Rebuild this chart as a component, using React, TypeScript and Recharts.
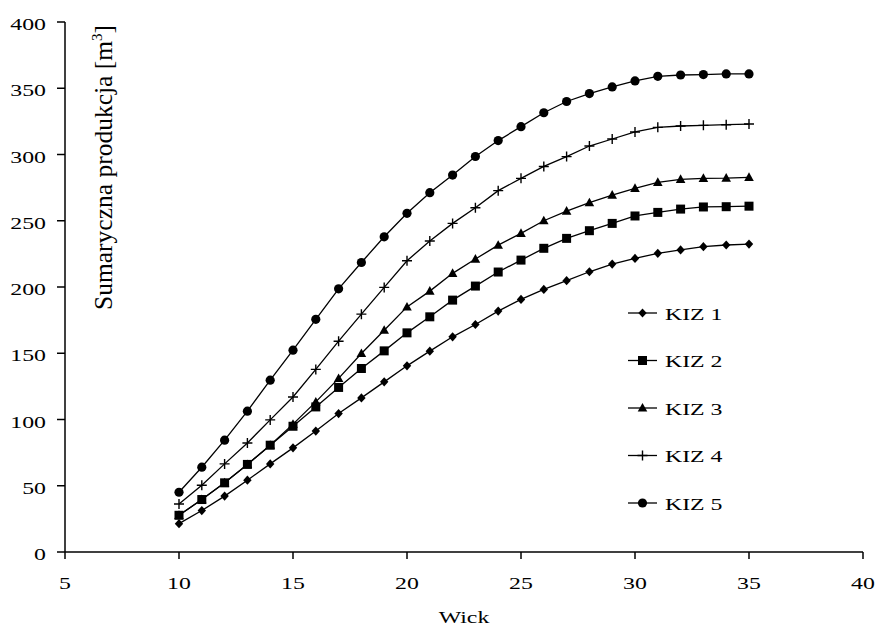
import React from 'react';
import { LineChart, Line, XAxis, YAxis, Label } from 'recharts';

const weeks = [10, 11, 12, 13, 14, 15, 16, 17, 18, 19, 20, 21, 22, 23, 24, 25, 26, 27, 28, 29, 30, 31, 32, 33, 34, 35];
const kiz1 = [21.4, 31.3, 42.2, 54.2, 66.5, 78.6, 91.3, 104.5, 116.3, 128.4, 140.5, 151.6, 162.4, 171.7, 181.8, 190.6, 198.2, 204.8, 211.5, 217.3, 221.6, 225.4, 228, 230.4, 231.7, 232.4];
const kiz2 = [27.7, 39.6, 52.2, 66.1, 80.6, 94.9, 109.5, 124.2, 138.5, 151.8, 165.4, 177.5, 190.1, 200.7, 211.3, 220.3, 229.2, 236.7, 242.5, 248, 253.6, 256.3, 258.8, 260.4, 260.6, 261];
const kiz3 = [27.7, 39.6, 52.2, 66.1, 80.6, 96.5, 113.3, 131, 149.8, 167.4, 185, 196.9, 210.3, 221.1, 231.6, 240.5, 250, 257.3, 263.6, 269.4, 274.5, 279, 281.3, 282, 282.2, 282.8];
const kiz4 = [36.2, 50.4, 66.5, 82.3, 99.7, 117, 137.8, 159.1, 179.5, 199.7, 219.8, 234.7, 248, 259.8, 272.7, 282, 291, 298.4, 306.4, 311.7, 317, 320.5, 321.5, 322, 322.5, 323];
const kiz5 = [45.1, 64, 84.4, 106.3, 129.7, 152.3, 175.6, 198.6, 218.5, 237.9, 255.6, 271.2, 284.5, 298.5, 310.5, 321, 331.5, 340, 346, 351, 355.5, 359, 360, 360.3, 360.8, 360.8];
const seriesNames = ['KIZ 1', 'KIZ 2', 'KIZ 3', 'KIZ 4', 'KIZ 5'];
const xTicks = [5, 10, 15, 20, 25, 30, 35, 40];
const yTicks = [0, 50, 100, 150, 200, 250, 300, 350, 400];

const data = weeks.map((w, i) => ({ w, k1: kiz1[i], k2: kiz2[i], k3: kiz3[i], k4: kiz4[i], k5: kiz5[i] }));

const FONT = "'Liberation Serif', 'Times New Roman', serif";
const SX = 1.36;
const txt = { fontFamily: FONT, fontSize: 17.5 };

type Shape = 'diamond' | 'square' | 'triangle' | 'plus' | 'circle';
const shapes: Shape[] = ['diamond', 'square', 'triangle', 'plus', 'circle'];

function marker(shape: Shape, cx: number, cy: number, key?: string | number) {
  switch (shape) {
    case 'diamond':
      return <path key={key} d={`M${cx},${cy - 4.6}L${cx + 4.2},${cy}L${cx},${cy + 4.6}L${cx - 4.2},${cy}Z`} fill="#000" />;
    case 'square':
      return <rect key={key} x={cx - 4.5} y={cy - 4.5} width={9} height={9} fill="#000" />;
    case 'triangle':
      return <path key={key} d={`M${cx},${cy - 5}L${cx + 4.8},${cy + 3.6}L${cx - 4.8},${cy + 3.6}Z`} fill="#000" />;
    case 'plus':
      return <path key={key} d={`M${cx - 5},${cy}H${cx + 5}M${cx},${cy - 5}V${cy + 5}`} stroke="#000" strokeWidth={1.4} fill="none" />;
    default:
      return <circle key={key} cx={cx} cy={cy} r={4.6} fill="#000" />;
  }
}

const dotFor = (shape: Shape) => (p: any) => marker(shape, p.cx, p.cy, `${shape}-${p.index}`);

const XTick = (p: any) => (
  <text transform={`translate(${p.x},${p.y + 30}) scale(${SX},1)`} textAnchor="middle" style={txt} fill="#000">
    {p.payload.value}
  </text>
);

const YTick = (p: any) => (
  <text transform={`translate(${p.x},${p.y + 8}) scale(${SX},1)`} textAnchor="end" style={txt} fill="#000">
    {p.payload.value}
  </text>
);

const XTitle = () => (
  <text transform={`translate(464,623) scale(${SX},1)`} textAnchor="middle" style={txt} fill="#000">
    Wick
  </text>
);

const YTitle = () => (
  <text transform="translate(111.5,310) rotate(-90)" textAnchor="start" style={{ fontFamily: FONT, fontSize: 25.5 }} fill="#000">
    Sumaryczna produkcja [m<tspan dy={-10} style={{ fontSize: 15 }}>3</tspan><tspan dy={10}>]</tspan>
  </text>
);

const LegendBox = () => (
  <svg width={200} height={230} style={{ position: 'absolute', left: 620, top: 295 }}>
    {seriesNames.map((name, i) => {
      const cy = 18 + i * 47.5;
      return (
        <g key={name}>
          <line x1={8} x2={37} y1={cy} y2={cy} stroke="#000" strokeWidth={1.3} />
          {marker(shapes[i], 22.5, cy)}
          <text transform={`translate(45,${cy + 6.5}) scale(${SX},1)`} style={txt} fill="#000">
            {name}
          </text>
        </g>
      );
    })}
  </svg>
);

export default function App() {
  const keys = ['k1', 'k2', 'k3', 'k4', 'k5'];
  return (
    <div style={{ position: 'absolute', left: 0, top: 0, width: 875, height: 629, background: '#fff' }}>
      <LineChart width={875} height={629} data={data} margin={{ top: 22, right: 12, bottom: 0, left: 0 }}>
        <XAxis
          dataKey="w"
          type="number"
          domain={[5, 40]}
          ticks={xTicks}
          height={77}
          tickSize={7}
          tickMargin={0}
          tick={XTick}
          axisLine={{ stroke: '#000', strokeWidth: 1.5 }}
          tickLine={{ stroke: '#000', strokeWidth: 1.5 }}
        >
          <Label content={XTitle} />
        </XAxis>
        <YAxis
          type="number"
          domain={[0, 400]}
          ticks={yTicks}
          width={65}
          tickSize={8}
          tickMargin={11}
          tick={YTick}
          axisLine={{ stroke: '#000', strokeWidth: 1.5 }}
          tickLine={{ stroke: '#000', strokeWidth: 1.5 }}
        >
          <Label content={YTitle} />
        </YAxis>
        {keys.map((k, i) => (
          <Line
            key={k}
            dataKey={k}
            name={seriesNames[i]}
            type="linear"
            stroke="#000"
            strokeWidth={1.3}
            dot={dotFor(shapes[i])}
            activeDot={false}
            isAnimationActive={false}
          />
        ))}
      </LineChart>
      <LegendBox />
    </div>
  );
}
